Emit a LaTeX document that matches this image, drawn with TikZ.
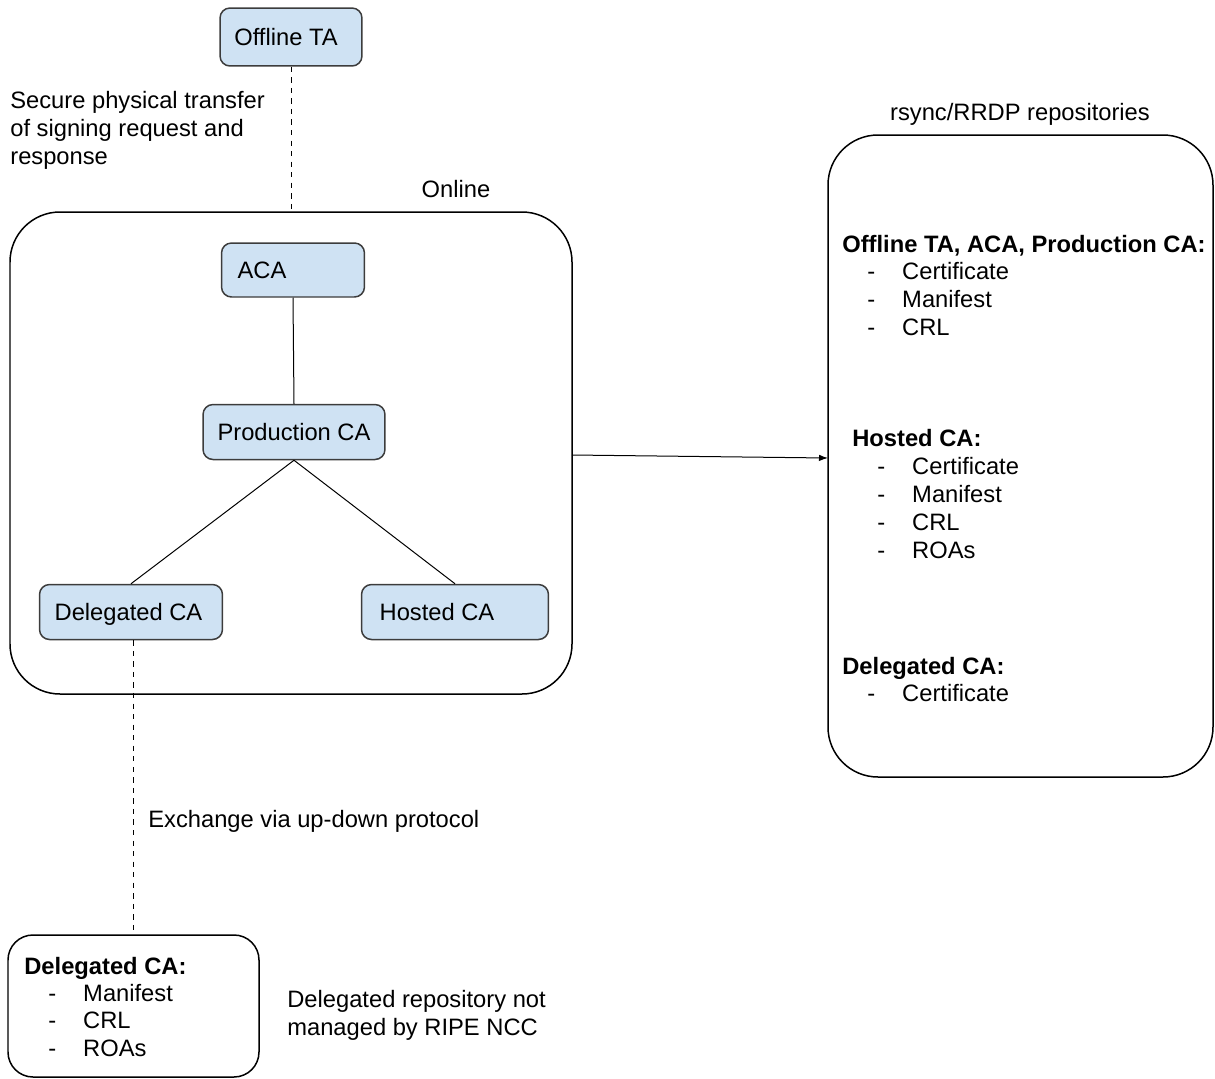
\documentclass[tikz,border=0pt]{standalone}
\usepackage{fontspec}
\setmainfont{Liberation Sans}
\usetikzlibrary{arrows.meta}
\definecolor{boxblue}{HTML}{CFE2F3}
\definecolor{boxline}{HTML}{3C3C3C}
\tikzset{
	cabox/.style={draw=boxline, fill=boxblue, line width=0.03cm, rounded corners=0.2cm, inner sep=0pt,
		font=\fontsize{13.5}{18}\selectfont, text height=2.2ex, text depth=0.3ex},
	txt/.style={font=\fontsize{13.5}{18}\selectfont, inner sep=0pt, anchor=west, text height=1.6ex, text depth=0.3ex},
	hd/.style={txt, font=\fontsize{13.5}{18}\selectfont\bfseries},
}
\begin{document}
\begin{tikzpicture}[x=0.02cm, y=-0.02cm]
	\useasboundingbox (0,0) rectangle (1215,1079);
	% online part
	\draw[line width=0.03cm, rounded corners=1cm] (10,212) rectangle (572,694);
	\node[font=\fontsize{13.5}{18}\selectfont] (online) at (456,189) {Online};
	\node[cabox, minimum width=2.84cm, minimum height=1.16cm] (ta) at (291,37) {\hspace*{-0.2cm}Offline TA};
	\node[cabox, minimum width=2.86cm, minimum height=1.08cm] (aca) at (293,270) {\hspace*{-1.24cm}ACA};
	\node[cabox, minimum width=3.64cm, minimum height=1.1cm] (prod) at (294,432) {Production CA};
	\node[cabox, minimum width=3.66cm, minimum height=1.1cm] (deleg) at (131,612) {\hspace*{-0.1cm}Delegated CA};
	\node[cabox, minimum width=3.74cm, minimum height=1.1cm] (hosted) at (455,612) {\hspace*{-0.72cm}Hosted CA};
	\coordinate (onltop) at (291,212);
	\draw[dashed, line width=0.02cm] (ta.south) -- (onltop);
	\draw[line width=0.02cm] (aca.south) -- (prod.north);
	\draw[line width=0.02cm] (prod.south) -- (deleg.north);
	\draw[line width=0.02cm] (prod.south) -- (hosted.north);
	\node[txt] (sec1) at (10,102) {Secure physical transfer};
	\node[txt] (sec2) at (10,130) {of signing request and};
	\node[txt] (sec3) at (10,158) {response};
	% repositories
	\draw[line width=0.03cm, rounded corners=1cm] (828,135) rectangle (1213,777);
	\node[font=\fontsize{13.5}{18}\selectfont] (rsync) at (1020,114) {rsync/RRDP repositories};
	\coordinate (onlr) at (572,455);
	\coordinate (repl) at (828,458);
	\draw[-{Latex[length=0.18cm, width=0.13cm]}, line width=0.02cm] (onlr) -- (repl);
	\node[hd] (h1) at (842,246) {Offline TA, ACA, Production CA:};
	\foreach \y/\t in {273/Certificate, 301/Manifest, 329/CRL}
		\node[txt] at (867,\y) {-\hspace{0.54cm}\t};
	\node[hd] (h2) at (852,440) {Hosted CA:};
	\foreach \y/\t in {468/Certificate, 496/Manifest, 524/CRL, 552/ROAs}
		\node[txt] at (877,\y) {-\hspace{0.54cm}\t};
	\node[hd] (h3) at (842,668) {Delegated CA:};
	\node[txt] at (867,695) {-\hspace{0.54cm}Certificate};
	% delegated repository
	\draw[line width=0.03cm, rounded corners=0.5cm] (8,935) rectangle (259,1077);
	\coordinate (deltop) at (133,935);
	\draw[dashed, line width=0.02cm] (deleg.south -| deltop) -- (deltop);
	\node[txt] (xch) at (148,821) {Exchange via up-down protocol};
	\node[hd] (h4) at (24,968) {Delegated CA:};
	\foreach \y/\t in {995/Manifest, 1022/CRL, 1050/ROAs}
		\node[txt] at (48,\y) {-\hspace{0.54cm}\t};
	\node[txt] (note1) at (287,1001) {Delegated repository not};
	\node[txt] (note2) at (287,1029) {managed by RIPE NCC};
\end{tikzpicture}
\end{document}
